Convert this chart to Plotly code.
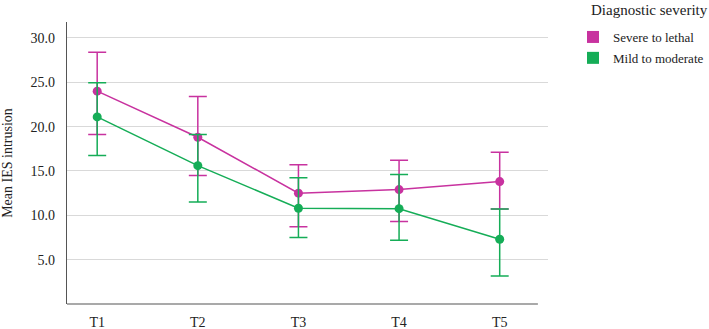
import plotly.graph_objects as go

categories = ["T1", "T2", "T3", "T4", "T5"]

severe_mean = [24.0, 18.8, 12.5, 12.9, 13.8]
severe_upper = [28.4, 23.4, 15.7, 16.2, 17.1]
severe_lower = [19.1, 14.5, 8.7, 9.3, 10.7]

mild_mean = [21.1, 15.6, 10.8, 10.75, 7.3]
mild_upper = [24.95, 19.1, 14.25, 14.6, 10.7]
mild_lower = [16.75, 11.5, 7.5, 7.2, 3.15]

y_ticks = [5, 10, 15, 20, 25, 30]
y_tick_labels = ["5.0", "10.0", "15.0", "20.0", "25.0", "30.0"]

series_names = ["Severe to lethal", "Mild to moderate"]
legend_title = "Diagnostic severity"
y_title = "Mean IES intrusion"
colors = ["#C8329F", "#15AD57"]

FONT = "Liberation Serif"

fig = go.Figure()

for name, color, mean, up, lo in [
    (series_names[0], colors[0], severe_mean, severe_upper, severe_lower),
    (series_names[1], colors[1], mild_mean, mild_upper, mild_lower),
]:
    fig.add_trace(go.Scatter(
        x=categories, y=mean, mode="lines+markers", name=name,
        line=dict(color=color, width=1.5),
        marker=dict(color=color, size=9),
        error_y=dict(type="data", symmetric=False,
                     array=[u - m for u, m in zip(up, mean)],
                     arrayminus=[m - l for m, l in zip(mean, lo)],
                     color=color, thickness=1.5, width=9),
        showlegend=False,
    ))

for i, (name, color) in enumerate(zip(series_names, colors)):
    fig.add_trace(go.Scatter(
        x=[None], y=[None], mode="markers", name=name,
        marker=dict(color=color, size=13, symbol="square"),
        showlegend=True, legendgroup=f"g{i}",
    ))

fig.update_layout(
    width=709, height=329,
    margin=dict(l=67, r=161, t=22, b=25, autoexpand=False),
    plot_bgcolor="white", paper_bgcolor="white",
    font=dict(family=FONT, size=14, color="#222222"),
    legend=dict(
        x=1.052, y=1.0, xanchor="left", yanchor="top",
        font=dict(family=FONT, size=13, color="#222"),
        itemsizing="constant", tracegroupgap=1,
    ),
    xaxis=dict(
        type="category", categoryorder="array", categoryarray=categories,
        range=[-0.3, 4.48], showgrid=False, showline=False, zeroline=False,
        ticks="", ticklabelstandoff=8, automargin=False,
        tickfont=dict(family=FONT, size=14, color="#222"),
    ),
    yaxis=dict(
        range=[0, 31.8], tickvals=y_ticks, ticktext=y_tick_labels,
        showgrid=True, gridcolor="#D9D9D9", gridwidth=1.2,
        showline=True, linecolor="#555555", linewidth=1.2, zeroline=False,
        ticks="", ticklabelstandoff=8, automargin=False,
        tickfont=dict(family=FONT, size=14, color="#222"),
        title=dict(text=y_title, font=dict(family=FONT, size=14, color="#222"), standoff=20),
    ),
    shapes=[dict(type="line", xref="paper", yref="paper", x0=0, x1=0.979, y0=0, y1=0,
                 line=dict(color="#555555", width=1.2))],
    annotations=[dict(text=legend_title, xref="paper", yref="paper", x=1.085, y=1.043,
                      xanchor="left", yanchor="middle", showarrow=False,
                      font=dict(family=FONT, size=15, color="#222"))],
)

fig.write_html("out.html", config={"displayModeBar": False},
               post_script="document.body.style.margin='0';")
